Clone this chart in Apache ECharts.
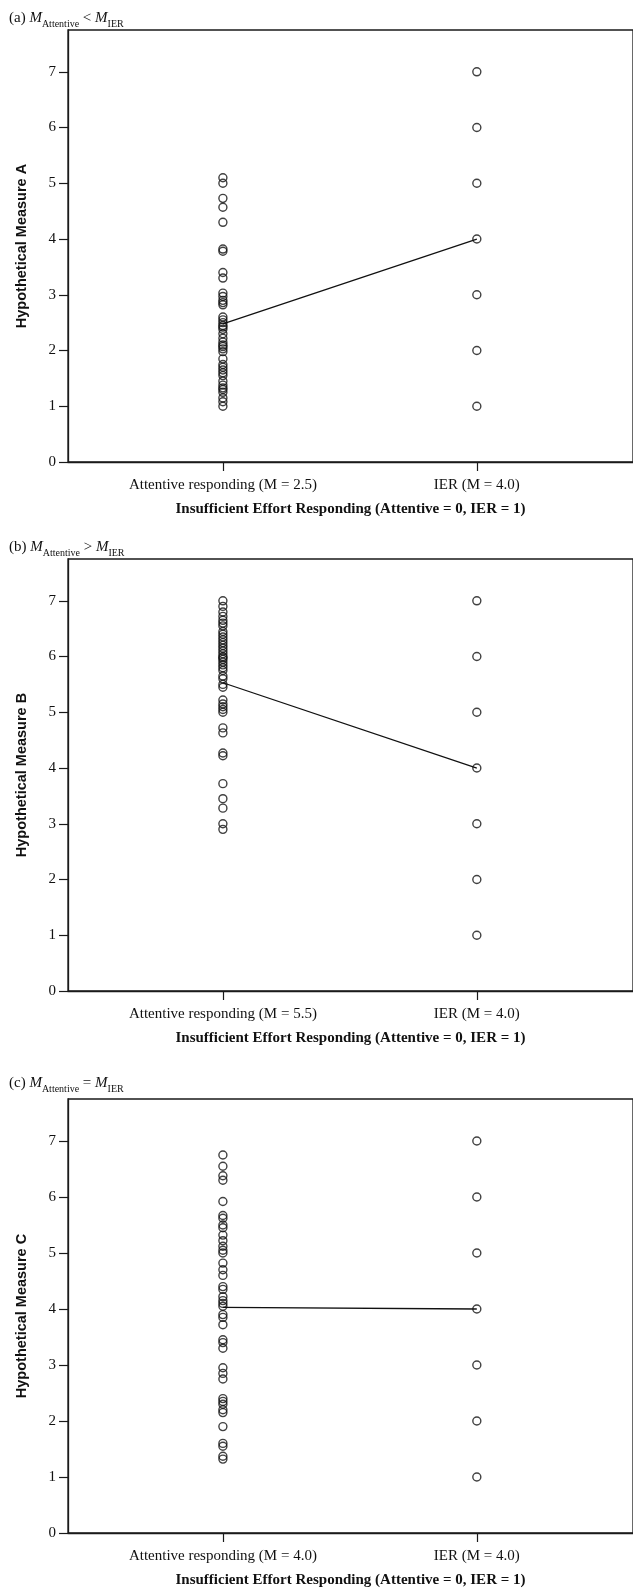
<!DOCTYPE html>
<html><head><meta charset="utf-8">
<script src="https://cdn.jsdelivr.net/npm/echarts@6/dist/echarts.min.js"></script>
<style>html,body{margin:0;padding:0;background:#fff}#c{width:633px;height:1589px}</style>
</head><body><div id="c"></div>
<script>
// ---- data ----
const ierValues = [1, 2, 3, 4, 5, 6, 7];
const attentiveA = [5.1,5.0,4.73,4.57,4.3,3.82,3.78,3.4,3.3,3.03,2.97,2.9,2.86,2.82,2.6,2.55,2.5,2.45,2.42,2.38,2.3,2.22,2.15,2.1,2.07,2.03,1.98,1.85,1.75,1.7,1.65,1.6,1.55,1.45,1.38,1.33,1.3,1.25,1.15,1.08,1.0];
const attentiveB = [7.0,6.9,6.8,6.72,6.65,6.6,6.55,6.45,6.4,6.35,6.3,6.25,6.2,6.15,6.1,6.05,6.0,5.98,5.95,5.9,5.85,5.8,5.75,5.65,5.6,5.5,5.45,5.22,5.15,5.1,5.05,5.0,4.72,4.63,4.27,4.22,3.72,3.45,3.28,3.0,2.9];
const attentiveC = [6.75,6.55,6.38,6.3,5.92,5.67,5.62,5.5,5.45,5.32,5.22,5.12,5.05,5.0,4.82,4.7,4.6,4.4,4.35,4.22,4.15,4.1,4.05,3.9,3.85,3.72,3.45,3.4,3.3,2.95,2.85,2.75,2.4,2.35,2.3,2.2,2.15,1.9,1.6,1.55,1.37,1.32];
const meansA = [2.48, 4.0];
const meansB = [5.53, 4.0];
const meansC = [4.03, 4.0];
const groupCodes = [0, 1];
const xLabelsA = ['Attentive responding (M = 2.5)', 'IER (M = 4.0)'];
const xLabelsB = ['Attentive responding (M = 5.5)', 'IER (M = 4.0)'];
const xLabelsC = ['Attentive responding (M = 4.0)', 'IER (M = 4.0)'];
const yTicks = [0, 1, 2, 3, 4, 5, 6, 7];
const yNames = ['Hypothetical Measure A', 'Hypothetical Measure B', 'Hypothetical Measure C'];
const xName = 'Insufficient Effort Responding (Attentive = 0, IER = 1)';
const panelTitles = [
  '(a) {i|M}{s|Attentive}{n| < }{i|M}{s|IER}',
  '(b) {i|M}{s|Attentive}{n| > }{i|M}{s|IER}',
  '(c) {i|M}{s|Attentive}{n| = }{i|M}{s|IER}'
];

// ---- layout ----
const panels = [
  {top: 30, height: 432, titleTop: 2, att: attentiveA, means: meansA, xl: xLabelsA},
  {top: 559, height: 432, titleTop: 531, att: attentiveB, means: meansB, xl: xLabelsB},
  {top: 1099, height: 435, titleTop: 1067, att: attentiveC, means: meansC, xl: xLabelsC}
];
const SERIF = '"Liberation Serif", "Times New Roman", serif';
const SANS = '"Liberation Sans", Arial, sans-serif';
const INK = '#1a1a1a';

const grid = [], xAxis = [], yAxis = [], series = [], title = [];
panels.forEach((p, i) => {
  grid.push({left: 68, top: p.top, width: 580, height: p.height, show: true,
    borderColor: INK, borderWidth: 1.3, backgroundColor: 'transparent'});
  title.push({text: panelTitles[i], left: 4, top: p.titleTop,
    textStyle: {fontFamily: SERIF, fontSize: 15, fontWeight: 'normal', color: '#111',
      rich: {
        n: {fontFamily: SERIF, fontSize: 15, color: '#111'},
        i: {fontFamily: SERIF, fontSize: 15, fontStyle: 'italic', color: '#111'},
        s: {fontFamily: SERIF, fontSize: 10, color: '#111', verticalAlign: 'bottom', lineHeight: 22}
      }}});
  xAxis.push({gridIndex: i, type: 'value', min: -0.61, max: 1.615,
    name: xName, nameLocation: 'middle', nameGap: 40,
    nameTextStyle: {fontFamily: SERIF, fontSize: 15, fontWeight: 'bold', color: '#111'},
    axisLine: {onZero: false, lineStyle: {color: INK, width: 1.3}},
    axisTick: {show: true, length: 9, lineStyle: {color: INK, width: 1.2}, customValues: groupCodes},
    axisLabel: {customValues: groupCodes, margin: 16, fontFamily: SERIF, fontSize: 15, color: '#111',
      formatter: v => (v === 0 ? p.xl[0] : v === 1 ? p.xl[1] : '')},
    splitLine: {show: false}});
  yAxis.push({gridIndex: i, type: 'value', min: 0, max: 7.75,
    name: yNames[i], nameLocation: 'middle', nameGap: 39,
    nameTextStyle: {fontFamily: SANS, fontSize: 14.5, fontWeight: 'bold', color: '#111'},
    axisLine: {show: true, onZero: false, lineStyle: {color: INK, width: 1.3}},
    axisTick: {show: true, length: 9, lineStyle: {color: INK, width: 1.2}, customValues: yTicks},
    axisLabel: {customValues: yTicks, margin: 12, fontFamily: SERIF, fontSize: 15, color: '#111'},
    splitLine: {show: false}});
  const circle = {type: 'scatter', xAxisIndex: i, yAxisIndex: i, symbol: 'circle', symbolSize: 8,
    itemStyle: {color: 'rgba(0,0,0,0)', borderColor: '#111', borderWidth: 1.4}, z: 3, silent: true};
  series.push(Object.assign({}, circle, {data: p.att.map(v => [groupCodes[0], v])}));
  series.push(Object.assign({}, circle, {data: ierValues.map(v => [groupCodes[1], v])}));
  series.push({type: 'line', xAxisIndex: i, yAxisIndex: i, symbol: 'none', silent: true,
    data: groupCodes.map((g, k) => [g, p.means[k]]), lineStyle: {color: '#111', width: 1.3}, z: 4});
});

const chart = echarts.init(document.getElementById('c'), null, {renderer: 'canvas'});
chart.setOption({animation: false, backgroundColor: '#fff', title, grid, xAxis, yAxis, series});
</script></body></html>
